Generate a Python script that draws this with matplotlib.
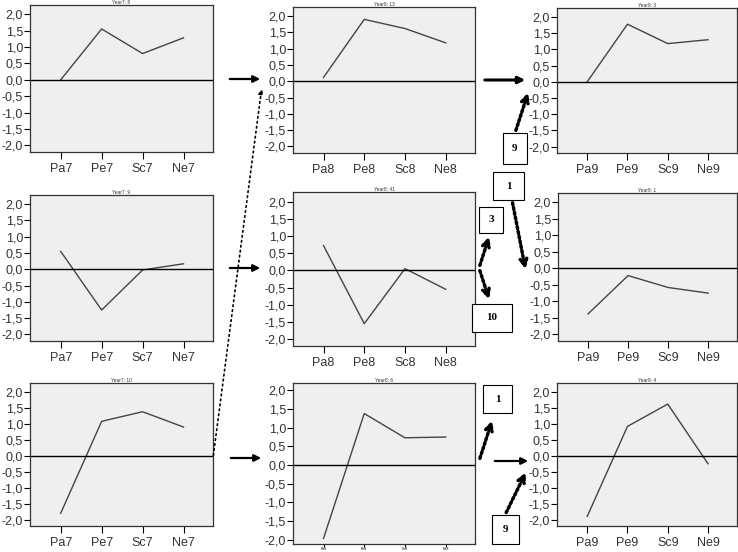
import matplotlib
matplotlib.use("Agg")
from matplotlib import pyplot as plt

plt.rcParams['font.family'] = ['Liberation Sans', 'DejaVu Sans']

H = 552

# panel titles and categories
titles = [["Year7: 8", "Year8: 13", "Year9: 3"],
          ["Year7: 9", "Year8: 41", "Year9: 1"],
          ["Year7: 10", "Year8: 6", "Year9: 4"]]
cats7 = ["Pa7", "Pe7", "Sc7", "Ne7"]
cats8 = ["Pa8", "Pe8", "Sc8", "Ne8"]
cats9 = ["Pa9", "Pe9", "Sc9", "Ne9"]

# values
top_y7 = [0.0, 1.55, 0.8, 1.28]
top_y8 = [0.12, 1.9, 1.62, 1.18]
top_y9 = [0.0, 1.78, 1.18, 1.3]
mid_y7 = [0.55, -1.25, -0.02, 0.17]
mid_y8 = [0.72, -1.55, 0.05, -0.55]
mid_y9 = [-1.38, -0.22, -0.58, -0.75]
bot_y7 = [-1.8, 1.08, 1.38, 0.9]
bot_y8 = [-1.97, 1.38, 0.73, 0.75]
bot_y9 = [-1.9, 0.92, 1.62, -0.25]

values = [[top_y7, top_y8, top_y9],
          [mid_y7, mid_y8, mid_y9],
          [bot_y7, bot_y8, bot_y9]]
cats = [cats7, cats8, cats9]
yticks = [2.0, 1.5, 1.0, 0.5, 0.0, -0.5, -1.0, -1.5, -2.0]

# panel boxes in image pixels: left, top, right, bottom
boxes = [[(30, 5, 213, 152), (293, 7, 475, 153), (557, 8, 737, 153)],
         [(30, 195, 213, 341), (293, 192, 475, 346), (558, 193, 737, 341)],
         [(30, 383, 213, 526), (293, 383, 475, 544), (557, 383, 737, 526)]]

fig = plt.figure(figsize=(7.38, 5.52), dpi=100)

for r in range(3):
    for c in range(3):
        l, t, rr, b = boxes[r][c]
        ax = fig.add_axes([l / 738, (H - b) / H, (rr - l) / 738, (b - t) / H])
        ax.set_facecolor("#efefef")
        ax.plot(range(4), values[r][c], color="#444444", lw=1)
        ax.axhline(0, color="black", lw=1)
        ax.set_xlim(-0.75, 3.72)
        if r == 2 and c == 1:
            ax.set_ylim(-2.12, 2.2)
        else:
            ax.set_ylim(-2.2, 2.28)
        ax.set_yticks(yticks)
        ax.set_yticklabels([("%.1f" % v).replace(".", ",") for v in yticks], fontsize=9, color="#333333")
        ax.set_xticks(range(4))
        ax.tick_params(axis="y", length=4, width=0.8, pad=1)
        if r == 2 and c == 1:
            ax.set_xticklabels(["Pa8", "Pe8", "Sc8", "Ne8"], fontsize=2.5)
            ax.tick_params(axis="x", length=2, width=0.8, pad=0.5)
        else:
            ax.set_xticklabels(cats[c], fontsize=9, color="#333333")
            ax.tick_params(axis="x", length=5, width=0.8, pad=3)
        for s in ax.spines.values():
            s.set_color("#333333")
            s.set_linewidth(0.9)
        ax.set_title(titles[r][c], fontsize=3.5, pad=1, color="#333333")


def px(x, y):
    return (x, H - y)


def solid_arrow(x0, x1, y, lw=1.6):
    fig.add_artist(matplotlib.patches.FancyArrowPatch(
        px(x0, y), px(x1, y), transform=None, arrowstyle="-|>",
        mutation_scale=10, color="black", lw=lw))


def dotted_arrow(x0, y0, x1, y1, lw=2.5, ms=12):
    fig.add_artist(matplotlib.patches.FancyArrowPatch(
        px(x0, y0), px(x1, y1), transform=None, arrowstyle="->",
        mutation_scale=ms, color="black", lw=lw, linestyle=(0, (0.6, 0.8))))


def num_box(x0, y0, x1, y1, txt):
    fig.add_artist(matplotlib.patches.Rectangle(
        px(x0, y1), x1 - x0, y1 - y0, transform=None, fill=True,
        facecolor="white", edgecolor="black", lw=0.8))
    fig.text((x0 + x1) / 2 / 738, (H - (y0 + y1) / 2) / H, txt,
             ha="center", va="center", fontsize=8, fontweight="bold",
             family="Liberation Serif")


# solid arrows between panels
solid_arrow(227, 263, 79)
solid_arrow(482, 528, 80, lw=2.2)
solid_arrow(227, 263, 268)
solid_arrow(228, 264, 458)
solid_arrow(492, 531, 461)

# thin dotted arrow from bottom-left to top-middle
fig.add_artist(matplotlib.patches.FancyArrowPatch(
    px(213, 458), px(262, 86), transform=None, arrowstyle="-|>",
    mutation_scale=7, color="black", lw=1.2, linestyle=(0, (1, 2))))

# number boxes
num_box(503, 133, 527, 164, "9")
num_box(493, 172, 524, 200, "1")
num_box(479, 207, 503, 233, "3")
num_box(472, 304, 512, 332, "10")
num_box(483, 385, 512, 413, "1")
num_box(492, 515, 519, 544, "9")

# thick dotted arrows
dotted_arrow(515, 133, 529, 90)
dotted_arrow(512, 200, 526, 272)
dotted_arrow(479, 268, 490, 234)
dotted_arrow(479, 268, 490, 302)
dotted_arrow(479, 461, 493, 418)
dotted_arrow(505, 515, 527, 470)

fig.savefig("out.png", dpi=100)
